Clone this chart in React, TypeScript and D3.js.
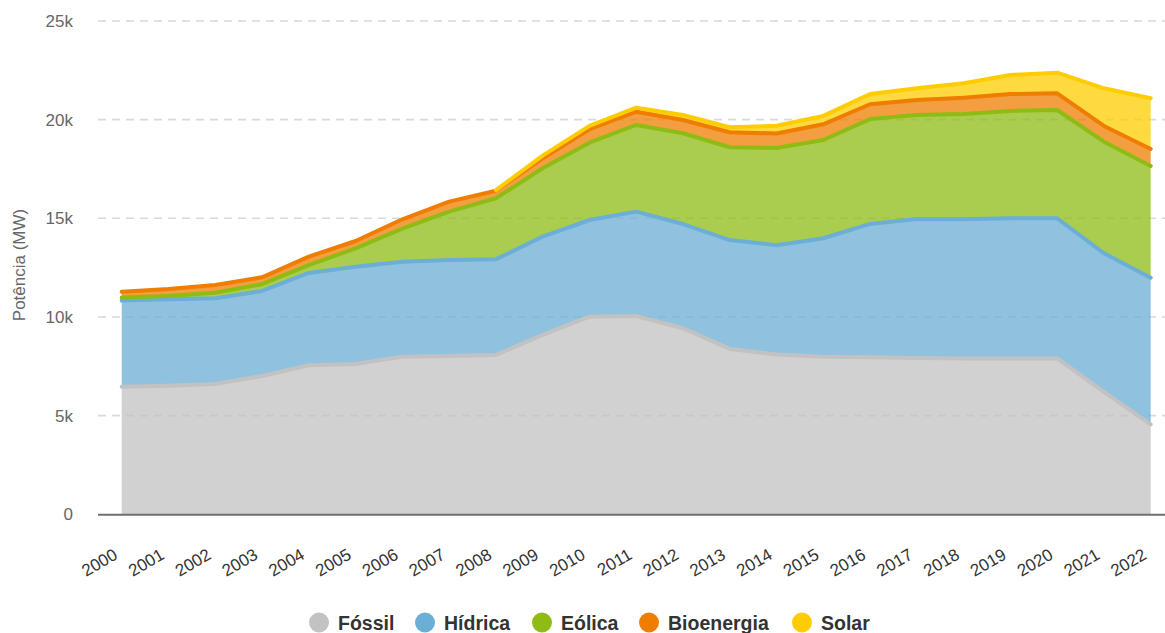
import React from "react";
import * as d3 from "d3";

const years = ["2000","2001","2002","2003","2004","2005","2006","2007","2008","2009","2010","2011","2012","2013","2014","2015","2016","2017","2018","2019","2020","2021","2022"];
const fossil = [6470, 6520, 6600, 7010, 7550, 7620, 7990, 8020, 8075, 9090, 10015, 10050, 9430, 8380, 8100, 7990, 7960, 7920, 7890, 7900, 7900, 6210, 4560];
const hidrica = [4360, 4380, 4350, 4310, 4680, 4930, 4810, 4870, 4845, 4980, 4900, 5290, 5280, 5520, 5540, 6000, 6755, 7045, 7060, 7100, 7100, 7020, 7430];
const eolica = [160, 165, 280, 340, 400, 930, 1680, 2450, 3095, 3465, 3920, 4390, 4600, 4700, 4920, 4980, 5315, 5275, 5340, 5440, 5490, 5655, 5660];
const bioenergia = [290, 355, 390, 350, 430, 370, 470, 505, 385, 505, 680, 675, 670, 760, 740, 795, 750, 760, 825, 860, 845, 795, 865];
const solar: (number | null)[] = [null, null, null, null, null, null, null, null, 30, 135, 170, 205, 260, 255, 390, 425, 520, 590, 730, 965, 1045, 1910, 2570];

const seriesNames = ["Fóssil", "Hídrica", "Eólica", "Bioenergia", "Solar"];
const seriesColors = ["#c2c2c2", "#6baed6", "#8fbc14", "#ef7d00", "#ffcc00"];
const yTicks = [0, 5000, 10000, 15000, 20000, 25000];
const yTickLabels = ["0", "5k", "10k", "15k", "20k", "25k"];
const yTitle = "Potência (MW)";

const FONT = "'Liberation Sans', Arial, Helvetica, sans-serif";

export default function App() {
  const W = 1165, H = 633;
  const x0 = 121.7, x1 = 1150.7;
  const yBottom = 514.3, yTop = 21;

  const x = d3.scalePoint<string>().domain(years).range([x0, x1]);
  const y = d3.scaleLinear().domain([0, 25000]).range([yBottom, yTop]);

  const allSeries = [fossil, hidrica, eolica, bioenergia, solar];
  const table = years.map((yr, i) => {
    const row: any = { year: yr, idx: i };
    seriesNames.forEach((n, k) => (row[n] = allSeries[k][i] ?? 0));
    return row;
  });
  const stacked = d3.stack<any>().keys(seriesNames)(table);

  const area = d3
    .area<any>()
    .x((d) => x(d.data.year) as number)
    .y0((d) => y(d[0]))
    .y1((d) => y(d[1]));

  const makeLine = (k: number) =>
    d3
      .line<any>()
      .defined((d) => allSeries[k][d.data.idx] !== null)
      .x((d) => x(d.data.year) as number)
      .y((d) => y(d[1]));

  const legendX = [319, 425, 542, 649, 802];

  return (
    <svg
      width={W}
      height={H}
      style={{ position: "absolute", left: 0, top: 0, background: "#fff" }}
      fontFamily={FONT}
    >
      {yTicks.slice(1).map((t) => (
        <line
          key={t}
          x1={98}
          x2={W}
          y1={y(t)}
          y2={y(t)}
          stroke="#d9d9d9"
          strokeWidth={1.6}
          strokeDasharray="8,6"
        />
      ))}
      {stacked.map((s, k) => (
        <path key={"a" + k} d={area(s) as string} fill={seriesColors[k]} fillOpacity={0.75} />
      ))}
      {stacked.map((s, k) => (
        <path
          key={"l" + k}
          d={makeLine(k)(s) as string}
          fill="none"
          stroke={seriesColors[k]}
          strokeWidth={4}
          strokeLinejoin="round"
          strokeLinecap="round"
        />
      ))}
      <line x1={98} x2={W} y1={yBottom + 0.5} y2={yBottom + 0.5} stroke="#6f6f6f" strokeWidth={2} />
      {yTicks.map((t, i) => (
        <text
          key={"yt" + t}
          x={73}
          y={y(t) + 6}
          textAnchor="end"
          fontSize={17}
          fill="#666"
        >
          {yTickLabels[i]}
        </text>
      ))}
      <text
        transform={`translate(25,${265}) rotate(-90)`}
        textAnchor="middle"
        fontSize={17}
        fill="#666"
      >
        {yTitle}
      </text>
      {years.map((yr) => (
        <text
          key={"xt" + yr}
          transform={`translate(${(x(yr) as number) - 3},${558}) rotate(-30)`}
          textAnchor="end"
          fontSize={17}
          fill="#333"
        >
          {yr}
        </text>
      ))}
      {seriesNames.map((n, k) => (
        <g key={"lg" + n}>
          <circle cx={legendX[k]} cy={622.5} r={10} fill={seriesColors[k]} />
          <text x={legendX[k] + 19} y={630} fontSize={19.5} fontWeight="bold" fill="#333">
            {n}
          </text>
        </g>
      ))}
    </svg>
  );
}
